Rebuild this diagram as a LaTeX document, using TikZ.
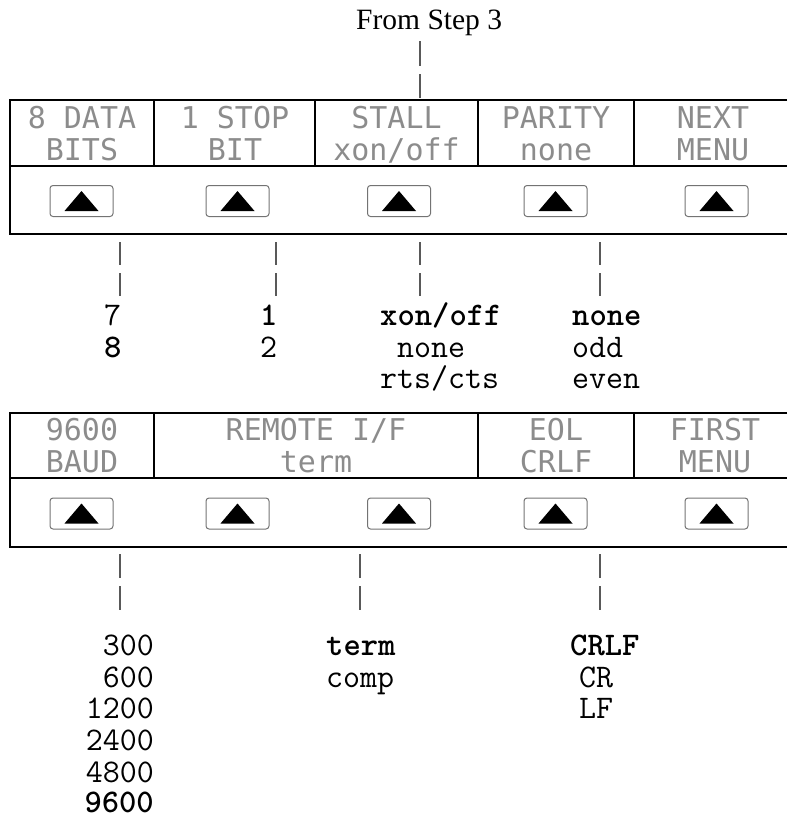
\documentclass[tikz,border=0pt]{standalone}
\usepackage{fontspec}
\newfontfamily\lcdfont{DejaVu Sans Mono}
\newfontfamily\serifcap{Liberation Serif}
\begin{document}
\begin{tikzpicture}[x=1pt,y=-1pt,
  panel/.style={line width=2pt, draw=black},
  btn/.style={draw=black!55, line width=1pt, rounded corners=3pt, minimum width=63pt, minimum height=31pt, inner sep=0pt},
  lcd/.style={font=\lcdfont\fontsize{30}{30}\selectfont, text=black!45, inner sep=0pt, anchor=base},
  opt/.style={font=\ttfamily\fontsize{33}{33}\selectfont, inner sep=0pt, anchor=base west},
  optb/.style={opt, font=\ttfamily\bfseries\fontsize{33}{33}\selectfont},
  conn/.style={draw=black!65, line width=1.2pt},
]
\useasboundingbox (0,0) rectangle (787,819);

% ---------- From Step 3 ----------
\node[font=\serifcap\fontsize{29.5}{29.5}\selectfont, inner sep=0pt, anchor=base west] (from) at (356,29) {From Step 3};
\coordinate (s3a) at (420,41);
\coordinate (s3b) at (420,98);
\draw[conn, dash pattern=on 25pt off 8pt] (s3a) -- (s3b);

% ---------- top panel ----------
\draw[panel] (787,100) -- (10,100) -- (10,234) -- (787,234);
\draw[panel] (10,166) -- (787,166);
\foreach \x in {154,315,478,634} \draw[panel] (\x,100) -- (\x,166);

\node[lcd] (t1a) at (82,128) {8 DATA};
\node[lcd] (t1b) at (82,160) {BITS};
\node[lcd] (t2a) at (235,128) {1 STOP};
\node[lcd] (t2b) at (235,160) {BIT};
\node[lcd] (t3a) at (396.5,128) {STALL};
\node[lcd] (t3b) at (396.5,160) {xon/off};
\node[lcd] (t4a) at (556,128) {PARITY};
\node[lcd] (t4b) at (556,160) {none};
\node[lcd] (t5a) at (713,128) {NEXT};
\node[lcd] (t5b) at (713,160) {MENU};

\foreach \i/\x in {1/81.5,2/237.5,3/399,4/555.5,5/716.5} {
  \node[btn] (tb\i) at (\x,201) {};
  \fill ([shift={(-17,10)}]tb\i.center) -- ([shift={(17,10)}]tb\i.center) -- ([shift={(0,-10)}]tb\i.center) -- cycle;
}

% connectors below top panel
\foreach \i/\x in {1/120,2/276,3/420,4/600} {
  \coordinate (ua\i) at (\x,242);
  \coordinate (ub\i) at (\x,297);
  \draw[conn, dash pattern=on 23pt off 8pt] (ua\i) -- (ub\i);
}

\node[opt]  (o1a) at (104,325) {7};
\node[optb] (o1b) at (104,357) {8};
\node[optb] (o2a) at (260,325) {1};
\node[opt]  (o2b) at (260,357) {2};
\node[optb] (o3a) at (380,325) {xon/off};
\node[opt]  (o3b) at (380,357) {\phantom{x}none};
\node[opt]  (o3c) at (380,388) {rts/cts};
\node[optb] (o4a) at (572,325) {none};
\node[opt]  (o4b) at (572,357) {odd};
\node[opt]  (o4c) at (572,388) {even};

% ---------- bottom panel ----------
\draw[panel] (787,413) -- (10,413) -- (10,547) -- (787,547);
\draw[panel] (10,478) -- (787,478);
\foreach \x in {154,478,634} \draw[panel] (\x,413) -- (\x,478);

\node[lcd] (p1a) at (82,440) {9600};
\node[lcd] (p1b) at (82,472) {BAUD};
\node[lcd] (p2a) at (316,440) {REMOTE I/F};
\node[lcd] (p2b) at (316,472) {term};
\node[lcd] (p3a) at (556,440) {EOL};
\node[lcd] (p3b) at (556,472) {CRLF};
\node[lcd] (p4a) at (715,440) {FIRST};
\node[lcd] (p4b) at (715,472) {MENU};

\foreach \i/\x in {1/81.5,2/237.5,3/399,4/555.5,5/716.5} {
  \node[btn] (bb\i) at (\x,513.5) {};
  \fill ([shift={(-17,10)}]bb\i.center) -- ([shift={(17,10)}]bb\i.center) -- ([shift={(0,-10)}]bb\i.center) -- cycle;
}

\foreach \i/\x in {1/120,2/360,3/600} {
  \coordinate (la\i) at (\x,554);
  \coordinate (lb\i) at (\x,611);
  \draw[conn, dash pattern=on 24pt off 8pt] (la\i) -- (lb\i);
}

\node[opt, anchor=base east]  (r1) at (154,655) {300};
\node[opt, anchor=base east]  (r2) at (154,687) {600};
\node[opt, anchor=base east]  (r3) at (154,718) {1200};
\node[opt, anchor=base east]  (r4) at (154,750) {2400};
\node[opt, anchor=base east]  (r5) at (154,782) {4800};
\node[optb, anchor=base east] (r6) at (154,812) {9600};

\node[optb] (m1) at (326,655) {term};
\node[opt]  (m2) at (326,687) {comp};

\node[optb] (e1) at (570,655) {CRLF};
\node[opt]  (e2) at (579,687) {CR};
\node[opt]  (e3) at (579,718) {LF};
\end{tikzpicture}
\end{document}
